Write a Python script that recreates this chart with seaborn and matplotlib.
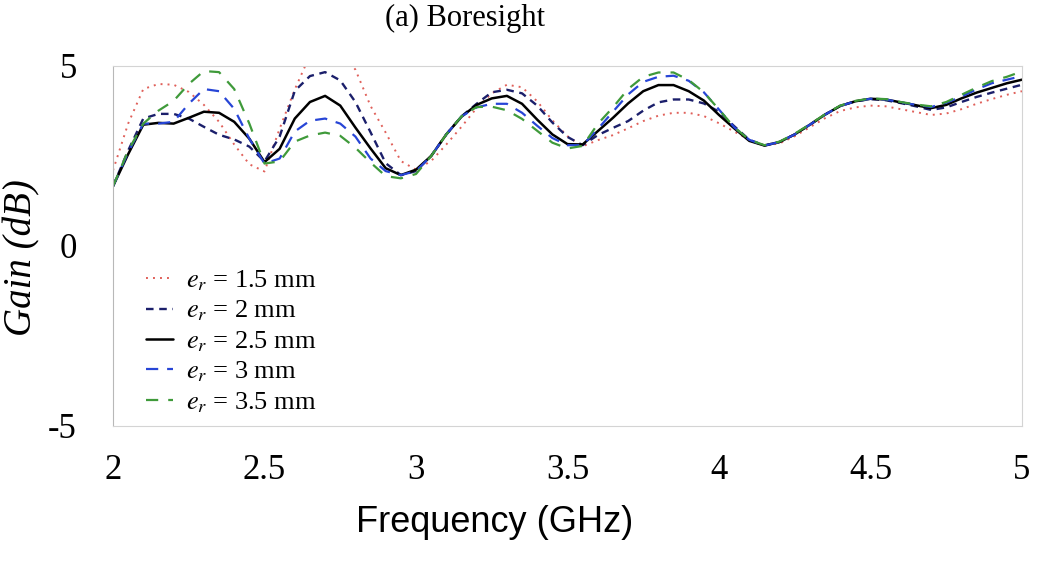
import matplotlib
matplotlib.use("Agg")
import matplotlib.pyplot as plt
import seaborn as sns
import pandas as pd

# ---- data ----
freq = [2.00, 2.05, 2.10, 2.15, 2.20, 2.25, 2.30, 2.35, 2.40, 2.45,
        2.50, 2.55, 2.60, 2.65, 2.70, 2.75, 2.80, 2.85, 2.90, 2.95,
        3.00, 3.05, 3.10, 3.15, 3.20, 3.25, 3.30, 3.35, 3.40, 3.45,
        3.50, 3.55, 3.60, 3.65, 3.70, 3.75, 3.80, 3.85, 3.90, 3.95,
        4.00, 4.05, 4.10, 4.15, 4.20, 4.25, 4.30, 4.35, 4.40, 4.45,
        4.50, 4.55, 4.60, 4.65, 4.70, 4.75, 4.80, 4.85, 4.90, 4.95,
        5.00]

gain_1p5 = [2.10, 3.40, 4.36, 4.50, 4.48, 4.28, 3.92, 3.45, 2.82, 2.27,
            2.07, 3.26, 4.35, 5.30, 5.55, 5.40, 4.90, 3.89, 3.15, 2.36,
            2.12, 2.36, 2.82, 3.31, 3.83, 4.24, 4.48, 4.41, 4.02, 3.49,
            3.05, 2.77, 2.94, 3.08, 3.27, 3.47, 3.62, 3.70, 3.70, 3.61,
            3.41, 3.18, 2.95, 2.79, 2.85, 3.05, 3.30, 3.55, 3.75, 3.85,
            3.90, 3.88, 3.80, 3.72, 3.64, 3.68, 3.80, 3.95, 4.08, 4.20,
            4.30]

gain_2 = [1.66, 2.65, 3.54, 3.67, 3.67, 3.54, 3.31, 3.09, 2.96, 2.76,
          2.35, 3.04, 4.31, 4.72, 4.83, 4.60, 4.00, 3.16, 2.30, 1.97,
          2.08, 2.50, 3.10, 3.60, 3.95, 4.27, 4.34, 4.24, 3.90, 3.43,
          3.03, 2.80, 3.08, 3.28, 3.47, 3.76, 3.99, 4.07, 4.07, 3.96,
          3.73, 3.33, 2.95, 2.79, 2.89, 3.10, 3.37, 3.65, 3.89, 4.02,
          4.08, 4.05, 3.97, 3.88, 3.78, 3.85, 4.00, 4.14, 4.26, 4.37,
          4.48]

gain_2p5 = [1.66, 2.55, 3.37, 3.42, 3.40, 3.56, 3.73, 3.70, 3.45, 2.98,
            2.33, 2.70, 3.54, 4.00, 4.17, 3.90, 3.29, 2.71, 2.16, 1.97,
            2.12, 2.50, 3.10, 3.59, 3.92, 4.10, 4.17, 3.95, 3.51, 3.10,
            2.83, 2.82, 3.19, 3.56, 3.96, 4.30, 4.47, 4.47, 4.30, 4.04,
            3.64, 3.27, 2.92, 2.79, 2.89, 3.10, 3.37, 3.65, 3.89, 4.02,
            4.09, 4.07, 3.99, 3.91, 3.83, 3.92, 4.10, 4.26, 4.39, 4.52,
            4.62]

gain_3 = [1.66, 2.60, 3.40, 3.40, 3.45, 3.95, 4.36, 4.30, 3.81, 2.98,
          2.29, 2.43, 3.18, 3.48, 3.54, 3.40, 3.04, 2.43, 2.08, 1.97,
          2.08, 2.50, 3.10, 3.60, 3.85, 3.95, 3.95, 3.70, 3.34, 3.00,
          2.80, 2.80, 3.25, 3.73, 4.21, 4.56, 4.70, 4.73, 4.59, 4.27,
          3.79, 3.30, 2.95, 2.79, 2.89, 3.10, 3.37, 3.65, 3.89, 4.02,
          4.09, 4.07, 3.99, 3.92, 3.86, 3.98, 4.15, 4.35, 4.52, 4.62,
          4.72]

gain_3p5 = [1.66, 2.65, 3.40, 3.76, 4.03, 4.50, 4.86, 4.83, 4.36, 3.40,
            2.29, 2.35, 2.90, 3.07, 3.15, 3.06, 2.73, 2.32, 1.94, 1.88,
            2.00, 2.50, 3.10, 3.60, 3.86, 3.87, 3.77, 3.53, 3.20, 2.87,
            2.71, 2.78, 3.39, 3.85, 4.36, 4.70, 4.82, 4.82, 4.61, 4.27,
            3.79, 3.30, 2.95, 2.80, 2.90, 3.12, 3.38, 3.66, 3.90, 4.03,
            4.10, 4.08, 4.00, 3.93, 3.88, 4.00, 4.20, 4.40, 4.58, 4.70,
            4.85]

labels = [r"$e_r$ = 1.5 mm", r"$e_r$ = 2 mm", r"$e_r$ = 2.5 mm",
          r"$e_r$ = 3 mm", r"$e_r$ = 3.5 mm"]
series = [gain_1p5, gain_2, gain_2p5, gain_3, gain_3p5]

xticks = [2, 2.5, 3, 3.5, 4, 4.5, 5]
xticklabels = ["2", "2.5", "3", "3.5", "4", "4.5", "5"]
yticks = [-5, 0, 5]
yticklabels = ["-5", "0", "5"]

# ---- styling ----
colors = ["#e0605a", "#1b1f6b", "#000000", "#2745d6", "#3f9a3a"]
styles = [(0, (1, 2.6)), (0, (3.2, 2.4)), "-", (0, (5.5, 4)), (0, (5.5, 4.5))]
widths = [1.4, 1.7, 1.8, 1.6, 1.6]

sns.set_theme(style="white")
plt.rcParams["font.family"] = ["Liberation Serif", "DejaVu Serif"]
plt.rcParams["mathtext.fontset"] = "stix"
plt.rcParams["text.color"] = "black"
plt.rcParams["axes.labelcolor"] = "black"
plt.rcParams["xtick.color"] = "black"
plt.rcParams["ytick.color"] = "black"

W, H = 1044, 563
fig = plt.figure(figsize=(W / 100, H / 100), dpi=100)
left, right, top, bottom = 113, 1022, 66, 426
ax = fig.add_axes([left / W, 1 - bottom / H, (right - left) / W, (bottom - top) / H])

rows = []
for lab, vals in zip(labels, series):
    for f, g in zip(freq, vals):
        rows.append({"freq": f, "gain": g, "case": lab})
df = pd.DataFrame(rows)

for lab, c, ls, lw in zip(labels, colors, styles, widths):
    sns.lineplot(data=df[df["case"] == lab], x="freq", y="gain", ax=ax,
                 color=c, linestyle=ls, linewidth=lw, label=lab)

ax.set_xlim(2, 5)
ax.set_ylim(-5, 5)
ax.set_xticks(xticks)
ax.set_xticklabels(xticklabels)
ax.set_yticks(yticks)
ax.set_yticklabels(yticklabels)
ax.tick_params(axis="both", length=0, labelsize=25, colors="black")
ax.tick_params(axis="x", pad=20)
ax.tick_params(axis="y", pad=26)

for s in ax.spines.values():
    s.set_color("#d4d4d4")
    s.set_linewidth(0.8)
ax.spines["left"].set_color("#b8b8b8")

ax.set_xlabel("Frequency (GHz)", fontsize=26, family=["Liberation Sans", "DejaVu Sans"])
ax.xaxis.set_label_coords((495 - left) / (right - left), -(505 - bottom) / (bottom - top))
ax.set_ylabel("Gain (dB)", fontsize=28, style="italic")
ax.yaxis.set_label_coords((40 - left) / (right - left), (bottom - 258) / (bottom - top))

leg = ax.legend(loc="upper left", bbox_to_anchor=(128 / W, 1 - 250 / H),
                bbox_transform=fig.transFigure, frameon=False, fontsize=19,
                handlelength=1.0, handletextpad=0.5, labelspacing=0.22,
                borderpad=0.2)

fig.text(465 / W, 1 - 26 / H, "(a) Boresight", ha="center", va="baseline", fontsize=22)

fig.savefig("out.png", dpi=100)
